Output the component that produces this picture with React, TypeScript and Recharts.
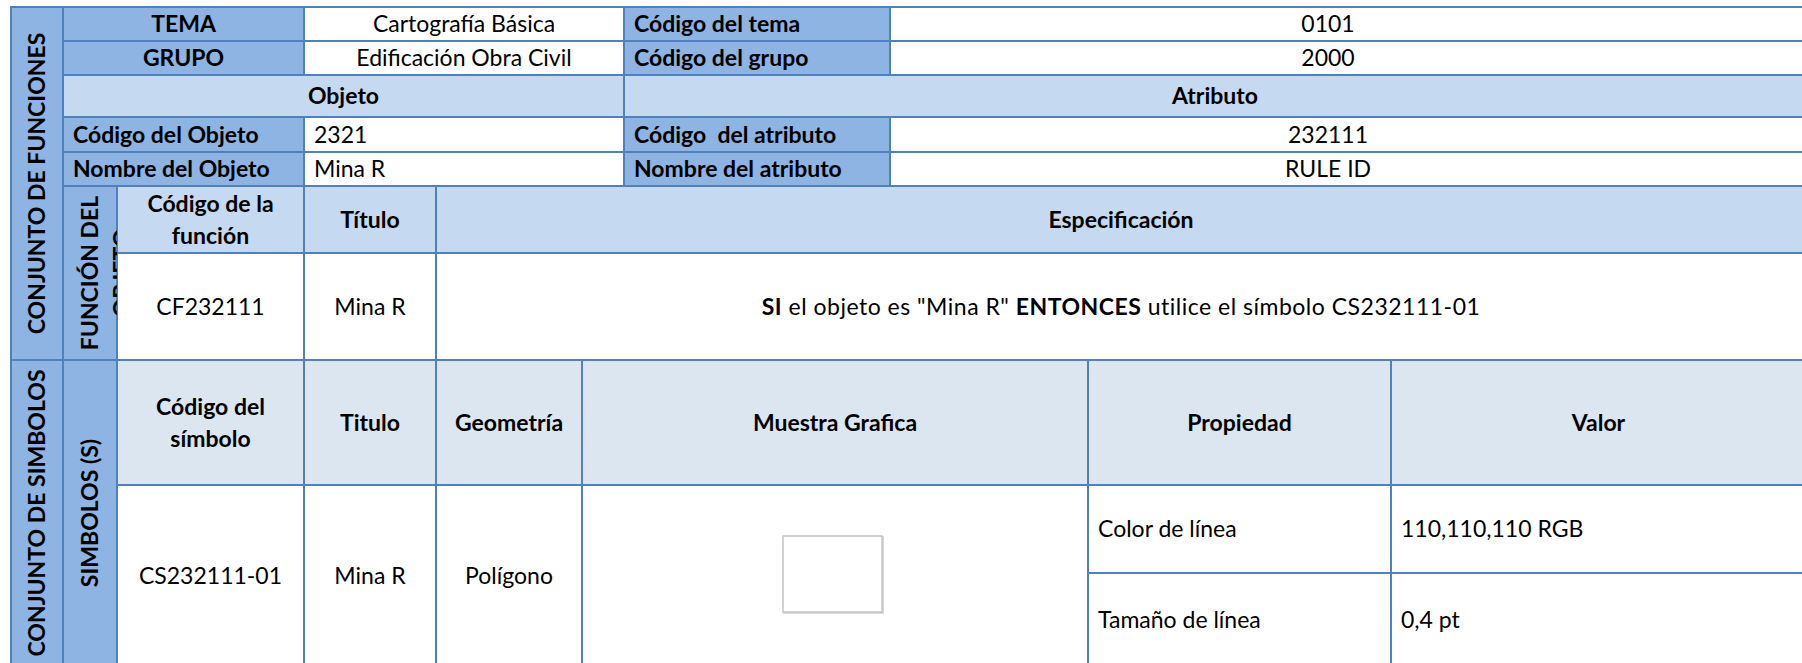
import React from 'react';
import { ComposedChart, XAxis, YAxis, ReferenceArea } from 'recharts';

// ---------------------------------------------------------------------------
// Data
// ---------------------------------------------------------------------------

const sectionTitles = ['CONJUNTO DE FUNCIONES', 'CONJUNTO DE SIMBOLOS'];
const subsectionTitles = [['FUNCIÓN DEL', 'OBJETO'], ['SIMBOLOS (S)']];

const themeLabels = ['TEMA', 'GRUPO'];
const themeValues = ['Cartografía Básica', 'Edificación Obra Civil'];
const themeCodeLabels = ['Código del tema', 'Código del grupo'];
const themeCodeValues = ['0101', '2000'];

const blockTitles = ['Objeto', 'Atributo'];
const objectLabels = ['Código del Objeto', 'Nombre del Objeto'];
const objectValues = ['2321', 'Mina R'];
const attributeLabels = ['Código  del atributo', 'Nombre del atributo'];
const attributeValues = ['232111', 'RULE ID'];

const functionHeaders = [['Código de la', 'función'], ['Título'], ['Especificación']];
const functionRow = ['CF232111', 'Mina R'];
const specParts = [
  { text: 'SI', bold: true },
  { text: ' el objeto es "Mina R" ', bold: false },
  { text: 'ENTONCES', bold: true },
  { text: ' utilice el símbolo CS232111-01', bold: false },
];

const symbolHeaders = [
  ['Código del', 'símbolo'],
  ['Titulo'],
  ['Geometría'],
  ['Muestra Grafica'],
  ['Propiedad'],
  ['Valor'],
];
const symbolRow = ['CS232111-01', 'Mina R', 'Polígono'];
const propertyNames = ['Color de línea', 'Tamaño de línea'];
const propertyValues = ['110,110,110 RGB', '0,4 pt'];

// ---------------------------------------------------------------------------
// Layout (grid lines of the sheet, in pixels)
// ---------------------------------------------------------------------------

const W = 1802;
const H = 663;
const X = { L: 11, S1: 63, S2: 117, C1: 304, C2: 436, C3: 582, C4: 624, C5: 890, C6: 1088, C7: 1391, R: 1806 };
const Y = [7, 41, 75, 117, 152, 186, 253, 360, 485, 573, 666];
const SAMPLE = { x1: 783, x2: 882, y1: 536, y2: 612 };

const DARK = '#8DB4E2';
const LIGHT = '#C5D9F1';
const PALE = '#DCE6F1';
const WHITE = '#FFFFFF';
const BORDER = '#4F81BD';
const FONT = 'Lato, Calibri, "Noto Sans", sans-serif';
const FS = 23;
const LINE = 32;
const VLINE = 32;
const PAD = 10;

// ---------------------------------------------------------------------------
// Cells
// ---------------------------------------------------------------------------

interface Cell {
  x1: number;
  x2: number;
  y1: number;
  y2: number;
  fill: string;
  lines?: string[];
  bold?: boolean;
  align?: 'center' | 'left';
  vertical?: boolean;
  firstCentered?: boolean;
  span?: number; // share of the width used for centring text
  rich?: boolean;
}

function buildCells(): Cell[] {
  const cells: Cell[] = [];
  const valueSpan = (1766 - X.C5) / (X.R - X.C5);

  themeLabels.forEach((label, i) => {
    const y1 = Y[i];
    const y2 = Y[i + 1];
    cells.push({ x1: X.S1, x2: X.C1, y1, y2, fill: DARK, lines: [label], bold: true });
    cells.push({ x1: X.C1, x2: X.C4, y1, y2, fill: WHITE, lines: [themeValues[i]] });
    cells.push({ x1: X.C4, x2: X.C5, y1, y2, fill: DARK, lines: [themeCodeLabels[i]], bold: true, align: 'left' });
    cells.push({ x1: X.C5, x2: X.R, y1, y2, fill: WHITE, lines: [themeCodeValues[i]], span: valueSpan });
  });

  cells.push({ x1: X.S1, x2: X.C4, y1: Y[2], y2: Y[3], fill: LIGHT, lines: [blockTitles[0]], bold: true });
  cells.push({ x1: X.C4, x2: X.R, y1: Y[2], y2: Y[3], fill: LIGHT, lines: [blockTitles[1]], bold: true });

  objectLabels.forEach((label, i) => {
    const y1 = Y[i + 3];
    const y2 = Y[i + 4];
    cells.push({ x1: X.S1, x2: X.C1, y1, y2, fill: DARK, lines: [label], bold: true, align: 'left' });
    cells.push({ x1: X.C1, x2: X.C4, y1, y2, fill: WHITE, lines: [objectValues[i]], align: 'left' });
    cells.push({ x1: X.C4, x2: X.C5, y1, y2, fill: DARK, lines: [attributeLabels[i]], bold: true, align: 'left' });
    cells.push({ x1: X.C5, x2: X.R, y1, y2, fill: WHITE, lines: [attributeValues[i]], span: valueSpan });
  });

  // function block
  const fnCols = [X.S2, X.C1, X.C2, X.R];
  functionHeaders.forEach((lines, i) => {
    cells.push({ x1: fnCols[i], x2: fnCols[i + 1], y1: Y[5], y2: Y[6], fill: LIGHT, lines, bold: true });
  });
  functionRow.forEach((text, i) => {
    cells.push({ x1: fnCols[i], x2: fnCols[i + 1], y1: Y[6], y2: Y[7], fill: WHITE, lines: [text] });
  });
  cells.push({ x1: X.C2, x2: X.R, y1: Y[6], y2: Y[7], fill: WHITE, rich: true });

  // symbol block
  const symCols = [X.S2, X.C1, X.C2, X.C3, X.C6, X.C7, X.R];
  symbolHeaders.forEach((lines, i) => {
    cells.push({ x1: symCols[i], x2: symCols[i + 1], y1: Y[7], y2: Y[8], fill: PALE, lines, bold: true });
  });
  symbolRow.forEach((text, i) => {
    cells.push({ x1: symCols[i], x2: symCols[i + 1], y1: Y[8], y2: Y[10], fill: WHITE, lines: [text] });
  });
  cells.push({ x1: X.C3, x2: X.C6, y1: Y[8], y2: Y[10], fill: WHITE });
  propertyNames.forEach((name, i) => {
    const y1 = Y[8 + i];
    const y2 = Y[9 + i];
    cells.push({ x1: X.C6, x2: X.C7, y1, y2, fill: WHITE, lines: [name], align: 'left' });
    cells.push({ x1: X.C7, x2: X.R, y1, y2, fill: WHITE, lines: [propertyValues[i]], align: 'left' });
  });

  // side strips
  cells.push({ x1: X.L, x2: X.S1, y1: Y[0], y2: Y[7], fill: DARK, lines: [sectionTitles[0]], bold: true, vertical: true });
  cells.push({ x1: X.L, x2: X.S1, y1: Y[7], y2: Y[10], fill: DARK, lines: [sectionTitles[1]], bold: true, vertical: true });
  cells.push({ x1: X.S1, x2: X.S2, y1: Y[5], y2: Y[7], fill: DARK, lines: subsectionTitles[0], bold: true, vertical: true, firstCentered: true });
  cells.push({ x1: X.S1, x2: X.S2, y1: Y[7], y2: Y[10], fill: DARK, lines: subsectionTitles[1], bold: true, vertical: true });

  return cells;
}

const cells = buildCells();

// ---------------------------------------------------------------------------
// Shape renderer
// ---------------------------------------------------------------------------

function renderCell(cell: Cell, idx: number) {
  return (p: any) => {
    const { x, y, width, height } = p;
    const n = cell.lines ? cell.lines.length : 0;
    const cx = x + (width * (cell.span ?? 1)) / 2;
    const cy = y + height / 2;
    const weight = cell.bold ? 700 : 400;
    const clipId = `cell-clip-${idx}`;

    let content: React.ReactNode = null;
    if (cell.rich) {
      content = (
        <text x={cx} y={cy} dy="0.35em" textAnchor="middle" fontFamily={FONT} fontSize={FS} fill="#000"
          letterSpacing={0.5} style={{ whiteSpace: 'pre' }}>
          {specParts.map((part, k) => (
            <tspan key={k} fontWeight={part.bold ? 700 : 400}>{part.text}</tspan>
          ))}
        </text>
      );
    } else if (cell.lines && cell.vertical) {
      content = (
        <g clipPath={`url(#${clipId})`}>
          {cell.lines.map((line, k) => {
            const off = cell.firstCentered ? k * VLINE : (k - (n - 1) / 2) * VLINE;
            return (
              <text key={k} x={cx} y={cy} dy="0.35em" textAnchor="middle" fontFamily={FONT} fontSize={FS} fontWeight={weight} fill="#000"
                transform={`rotate(-90, ${cx}, ${cy}) translate(0, ${off})`}>
                {line}
              </text>
            );
          })}
        </g>
      );
    } else if (cell.lines) {
      const left = cell.align === 'left';
      content = cell.lines.map((line, k) => (
        <text key={k} x={left ? x + PAD : cx} y={cy + (k - (n - 1) / 2) * LINE} dy="0.35em" textAnchor={left ? 'start' : 'middle'}
          fontFamily={FONT} fontSize={FS} fontWeight={weight} fill="#000" style={{ whiteSpace: 'pre' }}>
          {line}
        </text>
      ));
    }

    return (
      <g>
        <defs>
          <clipPath id={clipId}>
            <rect x={x} y={y} width={width} height={height} />
          </clipPath>
        </defs>
        <rect x={x} y={y} width={width} height={height} fill={cell.fill} stroke={BORDER} strokeWidth={2} />
        {content}
      </g>
    );
  };
}

function renderSample(p: any) {
  const { x, y, width, height } = p;
  return (
    <g>
      <rect x={x + 1} y={y + 1} width={width} height={height} fill="none" stroke="#D9D9D9" strokeWidth={2} />
      <rect x={x} y={y} width={width} height={height} fill="#FFFFFF" stroke="#C4C4C4" strokeWidth={1.5} />
    </g>
  );
}

// ---------------------------------------------------------------------------
// Component
// ---------------------------------------------------------------------------

export default function App() {
  return (
    <div style={{ width: W, height: H, background: '#fff' }}>
      <style>{'body{margin:0;background:#fff;}'}</style>
      <ComposedChart width={W} height={H} margin={{ top: 0, right: 0, bottom: 0, left: 0 }}>
        <XAxis type="number" dataKey="x" domain={[0, W]} hide allowDataOverflow />
        <YAxis type="number" dataKey="y" domain={[0, H]} hide reversed allowDataOverflow />
        {cells.map((cell, i) => (
          <ReferenceArea
            key={i}
            x1={cell.x1}
            x2={cell.x2}
            y1={cell.y1}
            y2={cell.y2}
            ifOverflow="hidden"
            shape={renderCell(cell, i)}
          />
        ))}
        <ReferenceArea
          x1={SAMPLE.x1}
          x2={SAMPLE.x2}
          y1={SAMPLE.y1}
          y2={SAMPLE.y2}
          ifOverflow="hidden"
          shape={renderSample}
        />
      </ComposedChart>
    </div>
  );
}
